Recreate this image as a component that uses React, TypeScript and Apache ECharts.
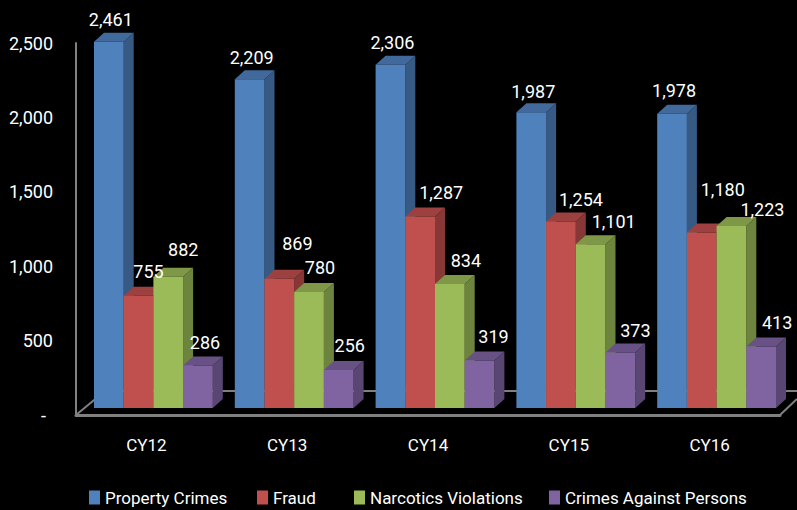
import React, { useEffect, useRef } from "react";
import * as echarts from "echarts";

const categories = ["CY12", "CY13", "CY14", "CY15", "CY16"];
const propertyCrimes = [2461, 2209, 2306, 1987, 1978];
const fraud = [755, 869, 1287, 1254, 1180];
const narcotics = [882, 780, 834, 1101, 1223];
const personCrimes = [286, 256, 319, 373, 413];
const yTicks = { min: 0, max: 2500, interval: 500 };

const seriesDefs = [
  { name: "Property Crimes", values: propertyCrimes, front: "#4F81BD", top: "#41699B", side: "#375A85" },
  { name: "Fraud", values: fraud, front: "#C0504D", top: "#9C413F", side: "#873836" },
  { name: "Narcotics Violations", values: narcotics, front: "#9BBB59", top: "#7E9848", side: "#6D843E" },
  { name: "Crimes Against Persons", values: personCrimes, front: "#8064A2", top: "#685184", side: "#5A4672" },
];

// label nudges in px from the top-centre of each bar's front face, [series][category]
const labelNudges = [
  [[2, -22], [2, -22], [2, -22], [2, -21], [2, -23]],
  [[10, -24], [18, -35], [21, -24], [20, -22], [21, -43]],
  [[15, -27], [11, -24], [16, -23], [23, -23], [31, -17]],
  [[7, -23], [11, -24], [14, -24], [15, -22], [16, -24]],
];
const legendLefts = [89, 257, 354, 549];

const FONT = 'Roboto, "Liberation Sans", sans-serif';
const BAR_W = 29.7;
const DEPTH_X = 10;
const DEPTH_Y = 9;
const PLANE_LIFT = 7;
const GROUP_SHIFT = 7;

function makeRender(seriesIndex: number, def: (typeof seriesDefs)[number]) {
  return (_params: any, api: any) => {
    const cat = api.value(0);
    const val = api.value(1);
    const [cx, yTop] = api.coord([cat, val]);
    const [, yBase] = api.coord([cat, 0]);
    const x0 = cx + GROUP_SHIFT - 2 * BAR_W + seriesIndex * BAR_W;
    const x1 = x0 + BAR_W;
    const top = yTop - PLANE_LIFT;
    const bot = yBase - PLANE_LIFT;
    const [nx, ny] = labelNudges[seriesIndex][cat];
    return {
      type: "group",
      children: [
        {
          type: "polygon",
          shape: { points: [[x1, top], [x1 + DEPTH_X, top - DEPTH_Y], [x1 + DEPTH_X, bot - DEPTH_Y], [x1, bot]] },
          style: { fill: def.side },
          z2: 1,
        },
        {
          type: "polygon",
          shape: { points: [[x0, top], [x0 + DEPTH_X, top - DEPTH_Y], [x1 + DEPTH_X, top - DEPTH_Y], [x1, top]] },
          style: { fill: def.top },
          z2: 1,
        },
        {
          type: "rect",
          shape: { x: x0, y: top, width: BAR_W, height: bot - top },
          style: { fill: def.front },
          z2: 2,
        },
        {
          type: "text",
          z2: 100,
          style: {
            text: val.toLocaleString("en-US"),
            x: (x0 + x1) / 2 + nx,
            y: top + ny,
            fill: "#ffffff",
            font: `18px ${FONT}`,
            align: "center",
            verticalAlign: "middle",
          },
        },
      ],
    };
  };
}

export default function App() {
  const ref = useRef<HTMLDivElement>(null);
  useEffect(() => {
    document.body.style.margin = "0";
    document.body.style.background = "#000";
    const chart = echarts.init(ref.current!, undefined, { renderer: "svg" });
    const floor = { stroke: "#808080", lineWidth: 2 };
    chart.setOption({
      animation: false,
      backgroundColor: "#000000",
      grid: { left: 76, top: 43, width: 704, height: 372 },
      legend: seriesDefs.map((d, i) => ({
        left: legendLefts[i],
        top: 489,
        itemWidth: 11,
        itemHeight: 14,
        icon: "rect",
        padding: 0,
        textStyle: { color: "#ffffff", fontSize: 17, fontFamily: FONT, padding: [3, 0, 0, 0] },
        data: [d.name],
      })),
      graphic: [
        { type: "line", z: 0, shape: { x1: 76, y1: 415, x2: 105, y2: 391 }, style: floor },
        { type: "line", z: 0, shape: { x1: 105, y1: 391, x2: 797, y2: 391 }, style: floor },
        { type: "line", z: 0, shape: { x1: 780, y1: 415, x2: 797, y2: 399 }, style: floor },
      ],
      xAxis: {
        type: "category",
        data: categories,
        axisTick: { show: false },
        axisLine: { lineStyle: { color: "#808080", width: 3 } },
        axisLabel: { color: "#ffffff", fontSize: 17, fontFamily: FONT, margin: 21 },
      },
      yAxis: {
        type: "value",
        ...yTicks,
        splitLine: { show: false },
        axisTick: { show: false },
        axisLine: { show: true, lineStyle: { color: "#808080", width: 2 } },
        axisLabel: {
          color: "#ffffff",
          fontSize: 18,
          fontFamily: FONT,
          margin: 23,
          formatter: (v: number) => (v === 0 ? "{dash|-}" : v.toLocaleString("en-US")),
          rich: { dash: { padding: [0, 7, 0, 0], fontSize: 18, fontFamily: FONT, color: "#ffffff" } },
        },
      },
      series: seriesDefs.map((d, s) => ({
        type: "custom",
        name: d.name,
        coordinateSystem: "cartesian2d",
        itemStyle: { color: d.front },
        encode: { x: 0, y: 1 },
        data: d.values.map((v, i) => [i, v]),
        renderItem: makeRender(s, d),
      })),
    });
    return () => chart.dispose();
  }, []);
  return <div ref={ref} style={{ position: "absolute", left: 0, top: 0, width: 797, height: 510 }} />;
}
